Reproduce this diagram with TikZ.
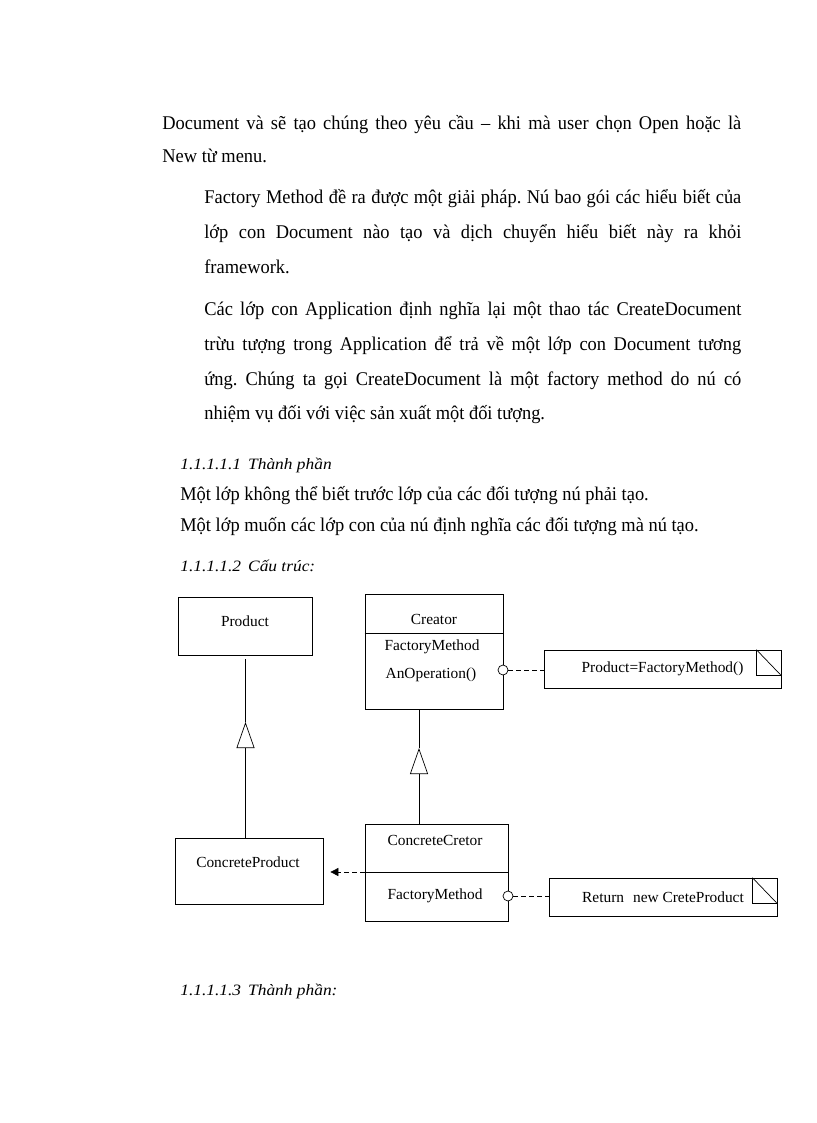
\documentclass[tikz,border=0pt]{standalone}
\usepackage{fontspec}
\setmainfont{Liberation Serif}
\newfontfamily\bodyfont[FakeStretch=0.95]{Liberation Serif}
\newfontfamily\headfont[FakeStretch=1.1]{Liberation Serif}
\usetikzlibrary{arrows.meta, positioning, calc}

\newcommand{\bodysize}{\bodyfont\fontsize{19.4}{22}\selectfont\frenchspacing}
\newcommand{\headsize}{\headfont\fontsize{15.8}{19}\selectfont\itshape}
\newcommand{\umlsize}{\fontsize{15.4}{18}\selectfont}
% a line set to a fixed width, spaces stretched
\newcommand{\fullline}[2]{\hbox to #1pt{#2}}

\begin{document}
\begin{tikzpicture}[
    x=1pt, y=-1pt,
    line width=0.7pt,
    % Texte de la page
    textline/.style={anchor=base west, inner sep=0pt, font=\bodysize},
    heading/.style={anchor=base west, inner sep=0pt, font=\headsize},
    % Diagramme de classes
    classbox/.style={
        rectangle,
        draw,
        fill=white,
        inner sep=0pt
    },
    umltext/.style={inner sep=0pt, font=\umlsize},
    notebox/.style={
        rectangle,
        draw,
        fill=white,
        minimum height=38pt,
        inner sep=0pt,
        font=\umlsize
    },
    port/.style={circle, draw, fill=white, inner sep=0pt, minimum size=10pt},
    dashline/.style={dash pattern=on 5pt off 3pt},
    generalize/.style={-{Triangle[open, length=26pt, width=18pt]}},
    depends/.style={dashline, -{Triangle[length=8pt, width=8pt]}}
]
    \useasboundingbox (0,0) rectangle (816,1123);

    % --- TEXTE ---
    \node[textline] (p1a) at (162,130) {\fullline{579}{Document và sẽ tạo chúng theo yêu cầu – khi mà user chọn Open hoặc là}};
    \node[textline] (p1b) at (162,163) {New từ menu.};

    \node[textline] (p2a) at (204,204) {\fullline{537}{Factory Method đề ra được một giải pháp. Nú bao gói các hiểu biết của}};
    \node[textline] (p2b) at (204,239) {\fullline{537}{lớp con Document nào tạo và dịch chuyển hiểu biết này ra khỏi}};
    \node[textline] (p2c) at (204,273) {framework.};

    \node[textline] (p3a) at (204,315) {\fullline{537}{Các lớp con Application định nghĩa lại một thao tác CreateDocument}};
    \node[textline] (p3b) at (204,350) {\fullline{537}{trừu tượng trong Application để trả về một lớp con Document tương}};
    \node[textline] (p3c) at (204,385) {\fullline{537}{ứng. Chúng ta gọi CreateDocument là một factory method do nú có}};
    \node[textline] (p3d) at (204,419) {nhiệm vụ đối với việc sản xuất một đối tượng.};

    \node[heading] (h1) at (180,469) {1.1.1.1.1\hspace{7pt}Thành phần};
    \node[textline] (s1a) at (180,500) {Một lớp không thể biết trước lớp của các đối tượng nú phải tạo.};
    \node[textline] (s1b) at (180,531) {Một lớp muốn các lớp con của nú định nghĩa các đối tượng mà nú tạo.};
    \node[heading] (h2) at (180,571) {1.1.1.1.2\hspace{7pt}Cấu trúc:};
    \node[heading] (h3) at (180,995) {1.1.1.1.3\hspace{7pt}Thành phần:};

    % --- CLASSES ---
    \node[classbox, minimum width=134pt, minimum height=58pt] (product) at (245,626) {};
    \node[umltext] (productName) at (245,621) {Product};

    \node[classbox, minimum width=138pt, minimum height=115pt] (creator) at (434,651.5) {};
    \coordinate (creatorDiv) at (0,633);
    \draw (creator.west |- creatorDiv) -- (creator.east |- creatorDiv);
    \node[umltext] (creatorName) at (434,619) {Creator};
    \node[umltext] (creatorOp1) at (432,647) {FactoryMethod};
    \node[umltext] (creatorOp2) at (431,675) {AnOperation()};

    \node[classbox, minimum width=148pt, minimum height=66pt] (concreteProduct) at (249,871) {};
    \node[umltext] (concreteProductName) at (248,862) {ConcreteProduct};

    \node[classbox, minimum width=143pt, minimum height=97pt] (concreteCreator) at (436.5,872.5) {};
    \coordinate (ccDiv) at (0,872);
    \draw (concreteCreator.west |- ccDiv) -- (concreteCreator.east |- ccDiv);
    \node[umltext] (concreteCreatorName) at (435,840) {ConcreteCretor};
    \node[umltext] (concreteCreatorOp) at (435,896) {FactoryMethod};

    % --- NOTES ---
    \node[notebox, minimum width=237pt] (noteCreate) at (662.5,669) {Product=FactoryMethod()\hspace{8pt}};
    \draw ([xshift=-25pt]noteCreate.north east) |- ([yshift=-26pt]noteCreate.north east);
    \draw ([xshift=-25pt]noteCreate.north east) -- ([yshift=-26pt]noteCreate.north east);

    \node[notebox, minimum width=228pt] (noteReturn) at (663,897) {Return\hspace{9pt}new CreteProduct\hspace{4pt}};
    \draw ([xshift=-25pt]noteReturn.north east) |- ([yshift=-26pt]noteReturn.north east);
    \draw ([xshift=-25pt]noteReturn.north east) -- ([yshift=-26pt]noteReturn.north east);

    % --- LIAISONS ---
    % Product <|-- ConcreteProduct
    \coordinate (productTip) at (245.5,722);
    \draw[generalize] (productTip |- concreteProduct.north) -- (productTip);
    \draw (productTip) -- ([yshift=-4pt]product.south -| productTip);

    % Creator <|-- ConcreteCretor
    \coordinate (creatorTip) at (419,748);
    \draw[generalize] (creatorTip |- concreteCreator.north) -- (creatorTip);
    \draw (creatorTip) -- (creator.south -| creatorTip);

    % ConcreteCretor ..> ConcreteProduct
    \draw[depends, shorten >=7pt] (concreteCreator.west |- ccDiv) -- (concreteProduct.east |- ccDiv);

    % Notes
    \node[port] (creatorPort) at (503,670) {};
    \draw[dashline] (creatorPort) -- (creatorPort -| noteCreate.west);
    \node[port] (concreteCreatorPort) at (508,896) {};
    \draw[dashline] (concreteCreatorPort) -- (concreteCreatorPort -| noteReturn.west);

\end{tikzpicture}
\end{document}
